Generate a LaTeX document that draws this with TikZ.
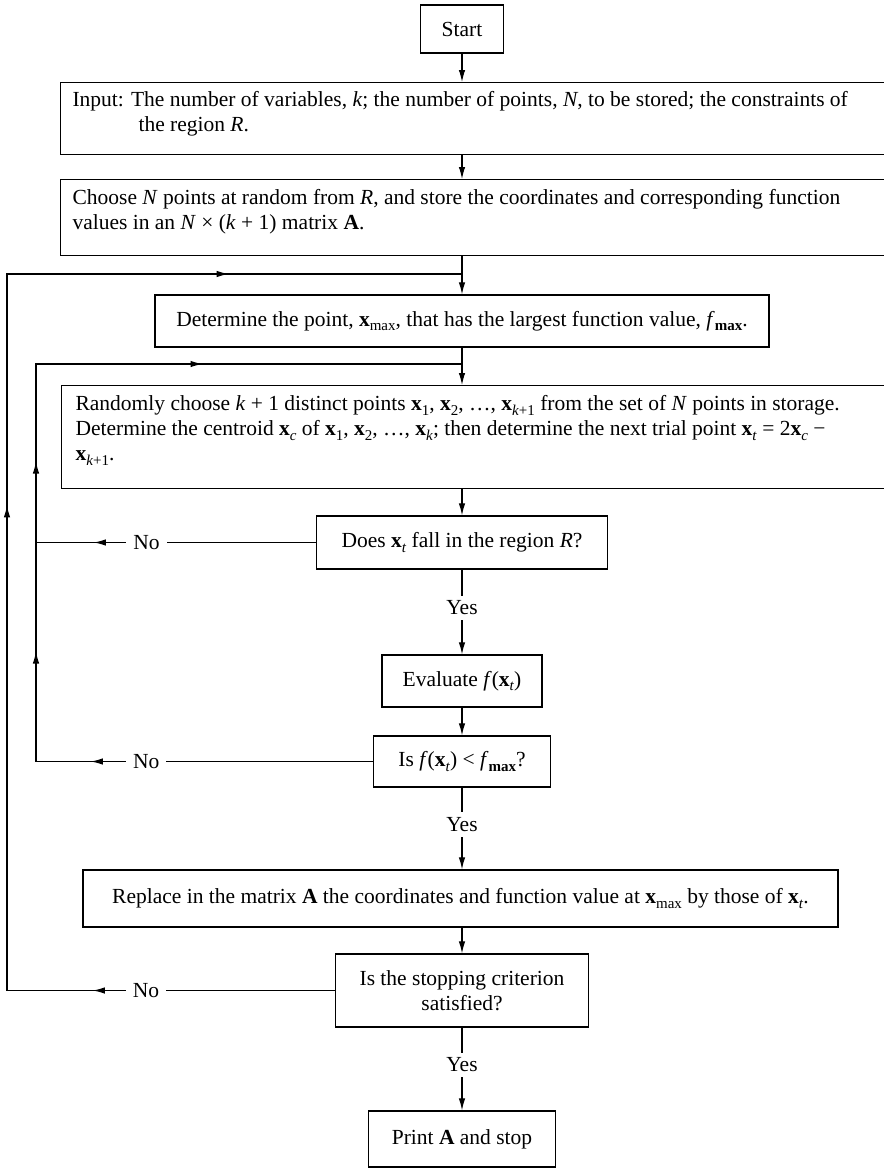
\documentclass[tikz,border=0pt]{standalone}
\usepackage{fontspec}
\setmainfont{Liberation Serif}
\usetikzlibrary{arrows.meta,decorations.markings}
\newcommand{\bx}{\textbf{x}}
\newcommand{\sbs}[1]{{\fontsize{15}{15}\selectfont\raisebox{-4.5pt}{#1}}}
\begin{document}
\begin{tikzpicture}[x=1pt,y=-1pt,
  font=\fontsize{21.5}{25}\selectfont,
  line width=1.1pt,
  >={Latex[length=12pt,width=6.5pt]},
  tipm/.tip={Latex[length=12pt,width=6.5pt]},
  box/.style={draw, rectangle, inner sep=0pt, align=center, line width=1.3pt},
  widebox/.style={draw, rectangle, inner sep=0pt, anchor=north west, minimum width=860pt, line width=1.3pt},
  wtext/.style={anchor=north west, inner sep=0pt, align=left},
  lbl/.style={fill=white, inner xsep=7pt, inner ysep=5pt},
  marr/.style={postaction={decorate}, decoration={markings, mark=at position #1 with {\arrow{tipm}}}},
]
\useasboundingbox (0,0) rectangle (884,1168);
\clip (0,0) rectangle (884,1168);

\coordinate (col) at (462,0);
\coordinate (j1) at (462,274);
\coordinate (j2) at (462,364);
\coordinate (c1) at (7,274);
\coordinate (c2) at (36,364);

% boxes
\node[box, minimum width=83pt, minimum height=48pt] (start) at (462,29) {Start};

\node[widebox, minimum height=72pt] (input) at (60,82) {};
\node[wtext] (inputtxt) at ([shift={(12pt,-9pt)}]input.north west)
  {Input: The number of variables, \textit{k}; the number of points, \textit{N}, to be stored; the constraints of\\
   \hspace*{66pt}the region \textit{R}.};

\node[widebox, minimum height=76pt] (choose) at (60,179) {};
\node[wtext] (choosetxt) at ([shift={(12pt,-10pt)}]choose.north west)
  {Choose \textit{N} points at random from \textit{R}, and store the coordinates and corresponding function\\
   values in an \textit{N} × (\textit{k} + 1) matrix \textbf{A}.};

\node[box, minimum width=614pt, minimum height=52pt] (determine) at (462,321)
  {Determine the point, \bx\sbs{max}, that has the largest function value, \textit{f}\sbs{\textbf{max}}.};

\node[widebox, minimum height=103pt] (randomly) at (61,385) {};
\node[wtext] (randomlytxt) at ([shift={(14pt,-10pt)}]randomly.north west)
  {Randomly choose \textit{k} + 1 distinct points \bx\sbs{1}, \bx\sbs{2}, \ldots, \bx\sbs{\textit{k}+1} from the set of \textit{N} points in storage.\\
   Determine the centroid \bx\sbs{\textit{c}} of \bx\sbs{1}, \bx\sbs{2}, \ldots, \bx\sbs{\textit{k}}; then determine the next trial point \bx\sbs{\textit{t}} = 2\bx\sbs{\textit{c}} −\\
   \bx\sbs{\textit{k}+1}.};

\node[box, minimum width=291pt, minimum height=53pt] (does) at (462,542.5)
  {Does \bx\sbs{\textit{t}} fall in the region \textit{R}?};
\node[box, minimum width=160pt, minimum height=52pt] (evaluate) at (462,681)
  {Evaluate \textit{f}(\bx\sbs{\textit{t}})};
\node[box, minimum width=177pt, minimum height=51pt] (isf) at (462,761.5)
  {Is \textit{f}(\bx\sbs{\textit{t}}) < \textit{f}\sbs{\textbf{max}}?};
\node[box, minimum width=755pt, minimum height=57pt] (replace) at (460.5,898.5)
  {Replace in the matrix \textbf{A} the coordinates and function value at \bx\sbs{max} by those of \bx\sbs{\textit{t}}.};
\node[box, minimum width=253pt, minimum height=73pt] (stopping) at (462,990.5)
  {Is the stopping criterion\\satisfied?};
\node[box, minimum width=187pt, minimum height=56pt] (print) at (462,1139)
  {Print \textbf{A} and stop};

% main column
\draw[->] (start.south) -- (start.south |- input.north);
\draw[->] (col |- input.south) -- (col |- choose.north);
\draw[->] (col |- choose.south) -- (determine.north);
\draw[->] (determine.south) -- (col |- randomly.north);
\draw[->] (col |- randomly.south) -- (does.north);
\draw[->] (does.south) -- node[lbl, pos=0.45] {Yes} (evaluate.north);
\draw[->] (evaluate.south) -- (isf.north);
\draw[->] (isf.south) -- node[lbl, pos=0.45] {Yes} (col |- replace.north);
\draw[->] (col |- replace.south) -- (stopping.north);
\draw[->] (stopping.south) -- node[lbl, pos=0.45] {Yes} (print.north);

% inner loop
\draw[marr=222pt] (does.west) -- node[lbl, pos=0.605] {No} (c2 |- does.west);
\draw[marr=282pt] (isf.west) -- node[lbl, pos=0.673] {No} (c2 |- isf.west);
\draw[postaction={decorate}, decoration={markings,
    mark=at position 110pt with {\arrow{tipm}},
    mark=at position 300pt with {\arrow{tipm}},
    mark=at position 564pt with {\arrow{tipm}}}]
  (c2 |- isf.west) -- (c2) -- (j2);

% outer loop
\draw[postaction={decorate}, decoration={markings,
    mark=at position 242pt with {\arrow{tipm}},
    mark=at position 813pt with {\arrow{tipm}},
    mark=at position 1266pt with {\arrow{tipm}}}]
  (stopping.west) -- node[lbl, pos=0.576] {No} (c1 |- stopping.west) -- (c1) -- (j1);
\end{tikzpicture}
\end{document}
